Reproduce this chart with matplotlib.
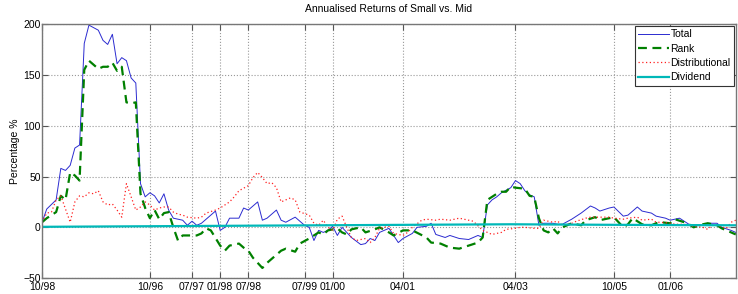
import matplotlib
matplotlib.use('Agg')
import matplotlib.pyplot as plt

plt.rcParams['font.family'] = ['Liberation Sans', 'DejaVu Sans']

# month index along the x axis, with the (odd) labels shown in the original
tick_pos = [0, 23, 32, 38, 44, 56, 62, 77, 101, 122, 134]
tick_labels = ['10/98', '10/96', '07/97', '01/98', '07/98', '07/99', '01/00',
               '04/01', '04/03', '10/05', '01/06']

total_x = [0, 1, 3, 4, 5, 6, 7, 8, 9, 10, 12, 13, 14, 15, 16, 17, 18, 19, 20,
           21, 22, 23, 24, 25, 26, 27, 28, 30, 31, 32, 33, 34, 37, 38, 39, 40,
           42, 43, 44, 46, 47, 48, 50, 51, 52, 54, 56, 57, 58, 59, 60, 61, 62,
           63, 64, 66, 68, 69, 70, 71, 72, 74, 76, 77, 79, 80, 82, 83, 84, 86,
           87, 89, 91, 92, 93, 94, 95, 96, 97, 98, 100, 101, 102, 103, 104,
           105, 106, 107, 109, 110, 111, 113, 115, 117, 118, 119, 121, 122,
           124, 125, 127, 128, 130, 131, 133, 134, 136, 138, 139, 141, 142,
           144, 145, 147, 148]
total_y = [5, 18, 27, 58, 56, 61, 78, 81, 181, 199, 194, 184, 180, 190, 161,
           167, 164, 147, 142, 43, 30, 34, 31, 24, 33, 17, 9, 7, 2, 6, 2, 4, 16,
           -3, 0, 9, 9, 19, 17, 25, 7, 9, 17, 7, 5, 10, 2, 0, -13, -3, -5, -3,
           1, -8, 0, -10, -17, -16, -11, -13, -5, -1, -15, -11, -6, 0, 1, 4, -7,
           -10, -8, -11, -12, -10, -8, -10, 22, 27, 30, 34, 39, 46, 43, 36, 32,
           30, 2, 4, 4, 3, 3, 8, 14, 21, 19, 16, 19, 20, 11, 12, 20, 16, 14, 11,
           9, 7, 9, 3, 2, 2, 4, 4, 0, -3, -5]

rank_x = [0, 1, 3, 4, 5, 6, 7, 8, 9, 10, 11, 12, 13, 14, 15, 16, 17, 18, 19, 20,
          21, 22, 23, 24, 25, 26, 27, 28, 29, 30, 33, 34, 35, 36, 38, 39, 40, 42,
          43, 44, 45, 47, 48, 49, 51, 52, 54, 55, 57, 58, 59, 60, 61, 63, 64,
          65, 66, 68, 69, 71, 72, 74, 75, 77, 79, 82, 83, 85, 87, 89, 91, 93,
          94, 95, 97, 98, 99, 100, 101, 103, 104, 105, 106, 107, 108, 109, 110,
          111, 113, 115, 116, 118, 119, 121, 122, 124, 125, 126, 128, 130, 131,
          132, 134, 135, 137, 138, 139, 141, 142, 144, 145, 147, 148]
rank_y = [5, 9, 15, 31, 27, 54, 51, 46, 155, 164, 160, 156, 158, 158, 162, 154, 158, 123, 122, 123,
          33, 19, 9, 17, 8, 14, 15, 0, -13, -8, -8, -6, -1, -3, -18, -23, -18, -16,
          -20, -23, -30, -40, -35, -31, -23, -21, -24, -16, -11, -8, -5, -7, -3, -1, -5,
          -7, -2, 0, -5, -2, 0, -5, -8, -3, -3, -10, -15, -16, -20, -21, -18, -15,
          -10, 27, 33, 35, 35, 40, 39, 38, 31, 30, 9, -3, -5, -1, -6,
          0, 4, 2, 7, 10, 7, 9, 10, 0, 3, 9, 3, 2, 4,
          5, 4, 8, 5, 3, 0, 3, 4, 2, -1, -5, -7]

dist_x = [0, 1, 2, 3, 4, 6, 7, 8, 9, 10, 11, 12, 13, 14, 15, 16, 17, 18, 19,
          20, 21, 22, 23, 24, 25, 26, 27, 28, 29, 30, 31, 33, 34, 35, 37, 38,
          40, 41, 42, 44, 45, 46, 47, 48, 49, 50, 51, 53, 54, 55, 57, 58, 59,
          60, 61, 62, 63, 64, 65, 66, 67, 69, 70, 71, 72, 74, 75, 77, 78, 79,
          81, 82, 84, 85, 87, 89, 91, 92, 94, 95, 96, 98, 99, 101, 102, 103,
          105, 106, 107, 109, 110, 111, 113, 114, 116, 117, 118, 120, 121,
          122, 124, 125, 127, 128, 130, 131, 132, 134, 135, 137, 138, 139,
          141, 142, 143, 144, 146, 147, 148]
dist_y = [5, 14, 15, 27, 31, 5, 25, 31, 30, 34, 33, 36, 25, 22, 23, 17, 10,
          43, 30, 17, 20, 25, 22, 17, 19, 20, 20, 15, 13, 12, 10, 9, 10, 14,
          17, 19, 25, 30, 36, 41, 49, 54, 49, 43, 44, 39, 25, 29, 27, 15, 12,
          4, 2, 7, 0, -3, 8, 11, 0, -10, -13, -11, -15, -10, -1, 1, -6, -8, -5,
          0, 7, 8, 7, 8, 7, 9, 7, 6, -3, -5, -7, -5, -2, -1, 0, 0, -1, -1, 7,
          5, 6, 2, 4, 6, 9, 10, 10, 10, 10, 9, 8, 9, 10, 7, 8, 5, 5, 4, 3, 3,
          2, 1, 0, -2, 2, 2, -1, 5, 7]

div_x = [0, 20, 40, 60, 80, 100, 120, 148]
div_y = [0.5, 1.0, 1.5, 2.0, 2.5, 3.0, 2.5, 2.0]

fig = plt.figure(figsize=(7.38, 2.94), dpi=100)
ax = fig.add_axes([0.057, 0.054, 0.94, 0.864])

ax.plot(total_x, total_y, color='#2b2bd0', lw=0.7, label='Total')
ax.plot(rank_x, rank_y, color='#008000', lw=1.6, ls=(0, (4, 2.5)), label='Rank')
ax.plot(dist_x, dist_y, color='#ff2020', lw=0.9, ls=(0, (1, 2)), label='Distributional')
ax.plot(div_x, div_y, color='#00b8b8', lw=1.6, label='Dividend')

ax.set_xlim(0, 148)
ax.set_ylim(-50, 200)
ax.set_yticks([-50, 0, 50, 100, 150, 200])
ax.set_xticks(tick_pos)
ax.set_xticklabels(tick_labels)
ax.tick_params(direction='in', top=True, right=True, labelsize=7.5, pad=1,
               length=4, width=0.8, color='#555555')
ax.tick_params(axis='x', pad=3)
ax.grid(True, ls=':', color='#999999', lw=0.8)
for s in ax.spines.values():
    s.set_color('#777777')
    s.set_linewidth(1.0)

ax.set_title('Annualised Returns of Small vs. Mid', fontsize=7.5, pad=9)
ax.set_ylabel('Percentage %', fontsize=7.5, labelpad=2)

leg = ax.legend(loc='upper right', fontsize=7.5, fancybox=False, framealpha=1,
                edgecolor='#333333', borderpad=0.35, labelspacing=0.42,
                handlelength=3.0, handletextpad=0.1, borderaxespad=0.15)
leg.get_frame().set_linewidth(0.8)

fig.savefig('out.png', dpi=100)
